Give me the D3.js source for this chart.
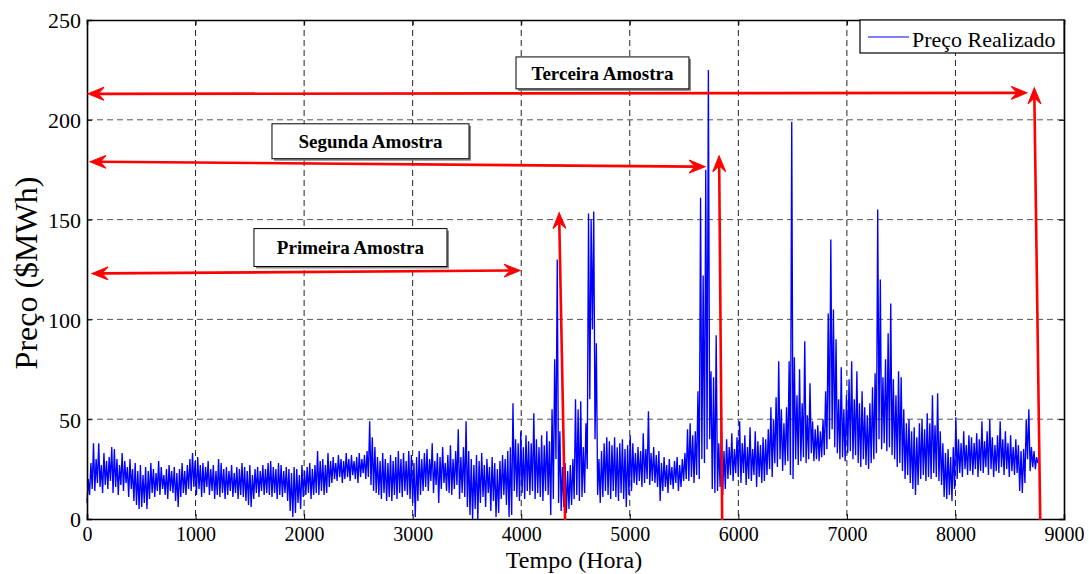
<!DOCTYPE html>
<html>
<head>
<meta charset="utf-8">
<script src="https://cdn.jsdelivr.net/npm/d3@7"></script>
<style>
  html, body { margin: 0; padding: 0; background: #fff; }
  svg { display: block; }
  text { font-family: "Liberation Serif", "Times New Roman", serif; fill: #000; }
</style>
</head>
<body>
<svg id="chart" width="1089" height="574"></svg>
<script>
// Realized hourly price, sampled every 12 hours (night valley / daytime peak), $/MWh
const passoHoras = 12;
const precoRealizado = [
  8,20,12,28,15,38,14,30,18,38,16,27,13,33,17,29,15,31,19,36,
  13,35,16,30,12,27,17,33,14,29,18,26,11,30,15,25,9,28,7,24,
  5,27,6,22,8,26,5,24,10,28,13,25,11,23,14,29,12,26,15,22,
  12,25,10,27,14,24,13,26,9,23,6,25,11,28,13,24,12,27,15,30,
  14,33,16,29,12,31,15,27,11,28,13,26,16,29,12,25,14,27,10,24,
  12,30,11,28,13,25,10,26,12,24,14,27,11,23,13,26,10,25,12,28,
  11,26,9,24,7,27,6,22,10,25,13,26,11,24,14,27,12,25,13,28,
  12,29,11,26,13,25,10,28,12,27,11,24,13,26,9,25,4,23,1,26,
  3,25,8,22,5,27,11,24,12,26,13,28,10,25,12,27,13,34,12,29,
  14,30,12,27,13,33,16,29,18,31,20,28,19,32,21,30,18,29,20,33,
  21,30,19,32,22,29,20,31,18,33,21,30,23,32,20,34,21,49,17,41,
  14,36,13,31,12,29,10,33,13,30,9,28,11,32,9,29,12,31,10,34,
  13,30,11,33,14,29,12,34,10,32,8,28,1,31,9,34,12,30,14,33,
  16,35,14,30,19,38,13,29,17,33,8,31,15,36,18,28,14,32,13,37,
  12,30,15,34,17,45,10,31,13,36,11,49,6,34,2,30,0,27,5,32,
  0,29,8,33,11,27,6,30,13,26,4,31,9,28,1,25,3,29,10,32,
  12,30,7,34,1,36,2,58,14,40,11,38,9,44,13,36,10,42,14,39,
  12,38,14,53,10,40,13,36,11,42,9,37,14,44,12,39,2,55,10,80,
  30,130,8,44,4,26,6,28,3,24,5,27,7,30,10,60,12,55,9,59,
  11,36,13,48,25,153,60,150,95,154,40,88,12,30,8,34,11,38,14,41,
  12,39,10,37,14,41,11,36,9,38,13,40,10,35,6,37,12,42,14,38,
  18,33,17,36,19,34,16,43,18,35,20,54,17,33,19,36,18,32,16,34,
  9,28,14,31,16,27,13,30,17,26,15,29,18,31,14,27,16,30,19,33,
  20,45,19,48,21,42,18,44,22,64,20,161,30,122,28,175,35,225,40,74,
  15,71,13,92,14,38,16,45,12,34,15,40,20,36,22,43,19,35,23,41,
  21,49,18,38,23,42,17,36,20,46,19,35,22,44,16,39,21,37,18,41,
  19,40,22,45,25,56,21,50,28,61,26,79,30,55,24,48,27,56,29,79,
  22,199,20,81,30,62,27,75,29,58,31,89,28,52,30,68,33,49,29,45,
  30,47,29,44,31,50,32,64,35,103,40,140,45,105,36,90,33,60,30,76,
  31,55,29,62,33,70,34,79,30,60,32,74,28,58,26,64,30,56,27,52,
  25,58,28,66,30,73,33,155,40,120,35,71,38,80,34,93,36,108,32,70,
  30,62,26,74,28,71,24,55,20,48,22,50,18,44,15,46,12,41,17,48,
  20,50,22,45,19,53,21,48,20,62,23,47,21,63,19,44,17,38,11,33,
  10,35,12,31,9,36,15,51,20,40,23,38,21,44,25,37,22,42,24,41,
  22,38,25,43,21,40,24,49,23,39,26,44,22,50,25,41,21,37,24,42,
  23,49,26,40,22,44,25,38,21,42,24,36,22,40,23,37,14,34,13,35,
  18,50,30,55,24,36,26,34,25,31,28
];

const xTicks = [0, 1000, 2000, 3000, 4000, 5000, 6000, 7000, 8000, 9000];
const yTicks = [0, 50, 100, 150, 200, 250];

// Sample windows: label, label box [h0, p0, h1, p1], horizontal arrow [h0,p0,h1,p1], vertical arrow [h0,p0,h1,p1]
const amostras = [
  { rotulo: "Primeira Amostra", caixa: [1538, 145.5, 3316, 126.5], horiz: [46, 123, 3990, 124.5], vert: [4404, -0.5, 4349, 153.5] },
  { rotulo: "Segunda Amostra",  caixa: [1704, 198, 3519, 180.5],   horiz: [28, 179, 5694, 176.5], vert: [5851, -0.5, 5823, 182] },
  { rotulo: "Terceira Amostra", caixa: [3952, 231.5, 5545, 215.5], horiz: [9, 213, 8661, 213.5],  vert: [8781, -0.5, 8726, 216] }
];

(function desenhar() {
  const svg = d3.select("#chart");
  const esq = 87, dir = 1064, topo = 20, base = 519;

  const x = d3.scaleLinear().domain([0, 9000]).range([esq, dir]);
  const y = d3.scaleLinear().domain([0, 250]).range([base, topo]);

  // grid
  const grid = svg.append("g");
  grid.selectAll("line.gx").data(xTicks.slice(1, -1)).join("line")
    .attr("class", "gx")
    .attr("x1", d => x(d)).attr("x2", d => x(d))
    .attr("y1", topo).attr("y2", base)
    .attr("stroke", "#222").attr("stroke-width", 1).attr("stroke-dasharray", "6,4");
  grid.selectAll("line.gy").data(yTicks.slice(1, -1)).join("line")
    .attr("class", "gy")
    .attr("x1", esq).attr("x2", dir)
    .attr("y1", d => y(d)).attr("y2", d => y(d))
    .attr("stroke", "#555").attr("stroke-width", 1).attr("stroke-dasharray", "6,4");

  // price series
  const linha = d3.line()
    .x((d, i) => x(i * passoHoras))
    .y(d => y(d));
  svg.append("path")
    .datum(precoRealizado)
    .attr("d", linha)
    .attr("fill", "none")
    .attr("stroke", "#0000ff")
    .attr("stroke-width", 1.35);

  // axes (inward ticks on all four sides)
  const axB = svg.append("g").attr("transform", `translate(0,${base})`)
    .call(d3.axisBottom(x).tickValues(xTicks).tickSize(-5).tickPadding(8).tickFormat(d3.format("d")));
  const axT = svg.append("g").attr("transform", `translate(0,${topo})`)
    .call(d3.axisTop(x).tickValues(xTicks).tickSize(-5).tickFormat(""));
  const axL = svg.append("g").attr("transform", `translate(${esq},0)`)
    .call(d3.axisLeft(y).tickValues(yTicks).tickSize(-5).tickPadding(6).tickFormat(d3.format("d")));
  const axR = svg.append("g").attr("transform", `translate(${dir},0)`)
    .call(d3.axisRight(y).tickValues(yTicks).tickSize(-5).tickFormat(""));

  [axB, axT, axL, axR].forEach(g => {
    g.select(".domain").attr("stroke", "#000").attr("stroke-width", 1.6);
    g.selectAll(".tick line").attr("stroke", "#000").attr("stroke-width", 1);
    g.selectAll("text").attr("font-family", "Liberation Serif").attr("fill", "#000");
  });
  axB.selectAll("text").attr("font-size", 20).attr("dy", "0.71em");
  axL.selectAll("text").attr("font-size", 22).attr("dy", "0.36em");

  // axis titles
  svg.append("text")
    .attr("x", 574).attr("y", 568)
    .attr("text-anchor", "middle")
    .attr("font-size", 24)
    .text("Tempo (Hora)");
  svg.append("text")
    .attr("transform", "translate(37,273) rotate(-90)")
    .attr("text-anchor", "middle")
    .attr("font-size", 32)
    .text("Preço ($MWh)");

  // arrows
  const vermelho = "#ff0000";
  function ponta(g, x0, y0, x1, y1) {
    const ang = Math.atan2(y1 - y0, x1 - x0) * 180 / Math.PI;
    g.append("path")
      .attr("d", "M0,0 L-16,-6.5 L-10,0 L-16,6.5 Z")
      .attr("transform", `translate(${x1},${y1}) rotate(${ang})`)
      .attr("fill", vermelho).attr("stroke", vermelho).attr("stroke-width", 1);
  }
  function seta(g, c, duas) {
    const x0 = x(c[0]), y0 = y(c[1]), x1 = x(c[2]), y1 = y(c[3]);
    const len = Math.hypot(x1 - x0, y1 - y0);
    const ux = (x1 - x0) / len, uy = (y1 - y0) / len;
    const sx = duas ? x0 + ux * 10 : x0, sy = duas ? y0 + uy * 10 : y0;
    g.append("line")
      .attr("x1", sx).attr("y1", sy)
      .attr("x2", x1 - ux * 10).attr("y2", y1 - uy * 10)
      .attr("stroke", vermelho).attr("stroke-width", 2.6);
    ponta(g, x0, y0, x1, y1);
    if (duas) ponta(g, x1, y1, x0, y0);
  }

  const gA = svg.append("g");
  amostras.forEach(a => {
    seta(gA, a.horiz, true);
    seta(gA, a.vert, false);
  });

  // sample labels in framed boxes
  amostras.forEach(a => {
    const x0 = x(a.caixa[0]), y0 = y(a.caixa[1]), x1 = x(a.caixa[2]), y1 = y(a.caixa[3]);
    const g = svg.append("g");
    g.append("rect")
      .attr("x", x0 + 2).attr("y", y0 + 2)
      .attr("width", x1 - x0).attr("height", y1 - y0)
      .attr("fill", "#888");
    g.append("rect")
      .attr("x", x0).attr("y", y0)
      .attr("width", x1 - x0).attr("height", y1 - y0)
      .attr("fill", "#fff").attr("stroke", "#000").attr("stroke-width", 1);
    g.append("text")
      .attr("x", (x0 + x1) / 2).attr("y", (y0 + y1) / 2)
      .attr("text-anchor", "middle").attr("dy", "0.35em")
      .attr("font-size", 19).attr("font-weight", "bold")
      .text(a.rotulo);
  });

  // legend
  const leg = svg.append("g");
  leg.append("rect")
    .attr("x", 860).attr("y", topo).attr("width", dir - 860).attr("height", 33)
    .attr("fill", "#fff").attr("stroke", "#000").attr("stroke-width", 1.2);
  leg.append("line")
    .attr("x1", 868).attr("x2", 909).attr("y1", 37).attr("y2", 37)
    .attr("stroke", "#0000ff").attr("stroke-width", 1);
  leg.append("text")
    .attr("x", 912).attr("y", 47)
    .attr("font-size", 22)
    .text("Preço Realizado");
})();
</script>
</body>
</html>
